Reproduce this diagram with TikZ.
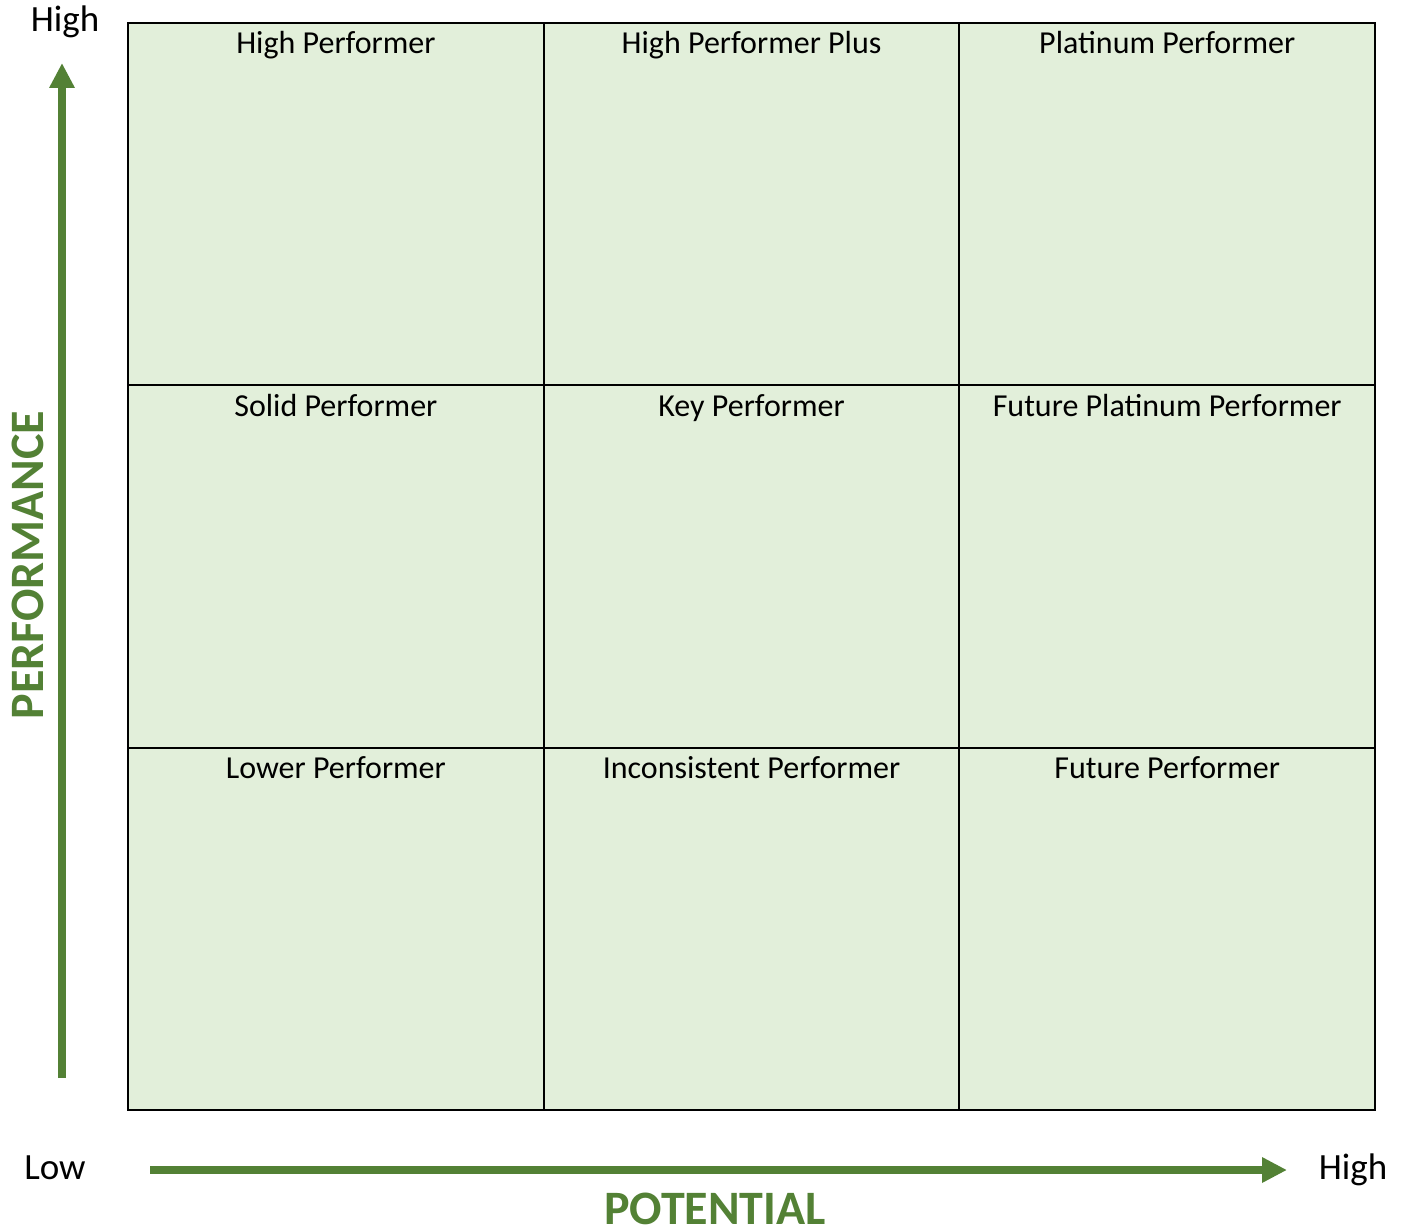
\documentclass[tikz,border=0pt]{standalone}
\usepackage{fontspec}
\setmainfont{Carlito}
\usetikzlibrary{arrows.meta}
\definecolor{cellfill}{HTML}{E2EFDA}
\definecolor{axisgreen}{HTML}{538135}
\tikzstyle{cell}=[draw=black,line width=2pt,fill=cellfill,minimum width=415.67pt,minimum height=362.33pt,inner sep=0pt,anchor=north west]
\tikzstyle{cell label}=[font=\fontsize{32}{38}\selectfont,anchor=base,inner sep=0pt]
\tikzstyle{tick label}=[font=\fontsize{37}{44}\selectfont,inner sep=0pt]
\tikzstyle{axis title}=[font=\fontsize{48}{56}\selectfont\bfseries,text=axisgreen,inner sep=0pt]
\tikzstyle{axis}=[draw=axisgreen,line width=8pt,-{Triangle[width=24pt,length=25pt]}]

\begin{document}
\begin{tikzpicture}[x=1pt,y=-1pt]
			\useasboundingbox (0,0) rectangle (1401,1230);
			% First we draw the nine cells
			\foreach \row/\col/\name/\text in {0/0/hp/High Performer, 0/1/hpp/High Performer Plus, 0/2/pp/Platinum Performer,
				1/0/sp/Solid Performer, 1/1/kp/Key Performer, 1/2/fpp/Future Platinum Performer,
				2/0/lp/Lower Performer, 2/1/ip/Inconsistent Performer, 2/2/fp/Future Performer}
			{
				\node[cell] (\name) at (127+415.67*\col, 22+362.33*\row) {};
				\node[cell label] (\name-label) at ([yshift=-32pt]\name.north) {\text};
			}
			% Axis end points
			\coordinate (perf-low) at (62,1078);
			\coordinate (perf-high) at (62,63);
			\coordinate (pot-low) at (150,1170);
			\coordinate (pot-high) at (1287,1170);
			\path[axis] (perf-low) to (perf-high);
			\path[axis] (pot-low) to (pot-high);
			% Axis labels
			\node[tick label] (perf-high-label) at (65,22) {High};
			\node[tick label] (pot-low-label) at (55,1168) {Low};
			\node[tick label] (pot-high-label) at (1353,1170) {High};
			\node[axis title,rotate=90] (perf-title) at (28,565) {PERFORMANCE};
			\node[axis title,anchor=base] (pot-title) at (715,1224) {POTENTIAL};
		\end{tikzpicture}
\end{document}
